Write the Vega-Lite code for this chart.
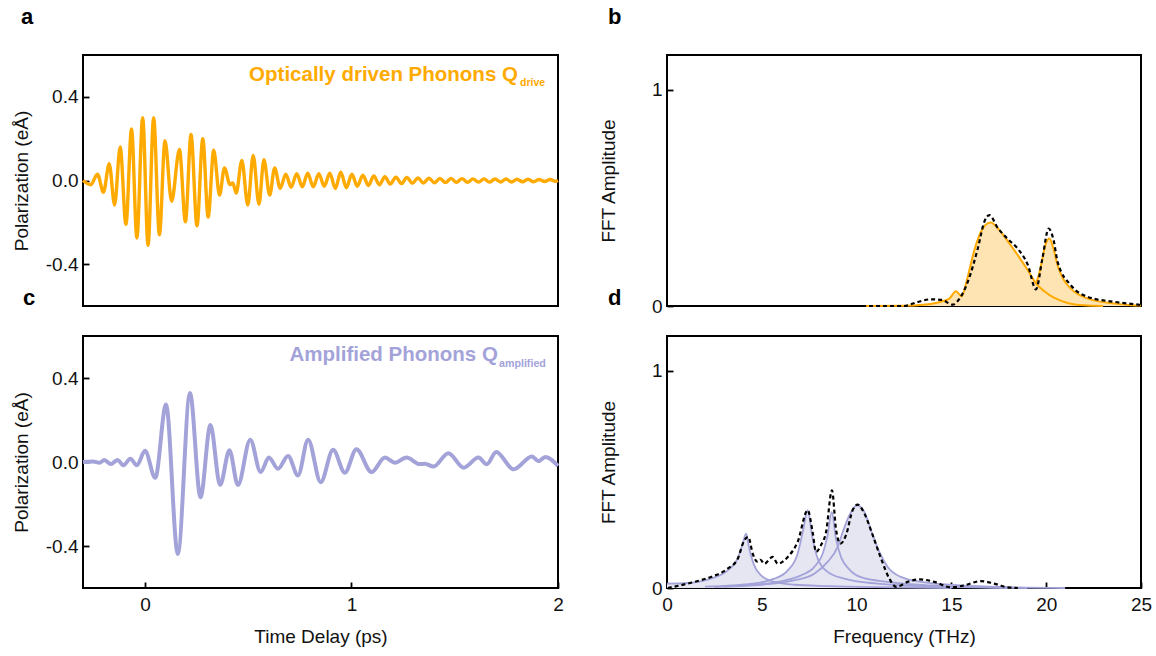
{
  "$schema": "https://vega.github.io/schema/vega-lite/v6.json",
  "padding": {"left": 11, "top": 5, "right": 5, "bottom": 5},
  "background": "white",
  "datasets": {
    "qa": [
      {"t": -0.30, "v": 0.0}, {"t": -0.262, "v": -0.02}, {"t": -0.230, "v": 0.03}, {"t": -0.201, "v": -0.056},
      {"t": -0.173, "v": 0.08}, {"t": -0.147, "v": -0.117}, {"t": -0.120, "v": 0.16}, {"t": -0.092, "v": -0.21},
      {"t": -0.065, "v": 0.247}, {"t": -0.039, "v": -0.275}, {"t": -0.011, "v": 0.30}, {"t": 0.015, "v": -0.31},
      {"t": 0.042, "v": 0.30}, {"t": 0.070, "v": -0.26}, {"t": 0.097, "v": 0.19}, {"t": 0.129, "v": -0.10},
      {"t": 0.167, "v": 0.148}, {"t": 0.196, "v": -0.198}, {"t": 0.223, "v": 0.22}, {"t": 0.252, "v": -0.217},
      {"t": 0.280, "v": 0.20}, {"t": 0.306, "v": -0.175}, {"t": 0.333, "v": 0.145}, {"t": 0.361, "v": -0.07},
      {"t": 0.385, "v": 0.06}, {"t": 0.412, "v": -0.02}, {"t": 0.425, "v": -0.012}, {"t": 0.442, "v": -0.06},
      {"t": 0.469, "v": 0.096}, {"t": 0.498, "v": -0.117}, {"t": 0.524, "v": 0.12}, {"t": 0.552, "v": -0.114},
      {"t": 0.576, "v": 0.10}, {"t": 0.604, "v": -0.07}, {"t": 0.628, "v": 0.06}, {"t": 0.655, "v": -0.037},
      {"t": 0.682, "v": 0.03}, {"t": 0.708, "v": -0.032}, {"t": 0.735, "v": 0.033}, {"t": 0.762, "v": -0.03},
      {"t": 0.788, "v": 0.035}, {"t": 0.815, "v": -0.03}, {"t": 0.842, "v": 0.032}, {"t": 0.868, "v": -0.028},
      {"t": 0.895, "v": 0.035}, {"t": 0.922, "v": -0.038}, {"t": 0.948, "v": 0.04}, {"t": 0.975, "v": -0.035},
      {"t": 1.002, "v": 0.03}, {"t": 1.028, "v": -0.028}, {"t": 1.055, "v": 0.025}, {"t": 1.082, "v": -0.024},
      {"t": 1.108, "v": 0.022}, {"t": 1.135, "v": -0.02}, {"t": 1.162, "v": 0.018}, {"t": 1.188, "v": -0.017},
      {"t": 1.215, "v": 0.016}, {"t": 1.242, "v": -0.015}, {"t": 1.268, "v": 0.014}, {"t": 1.295, "v": -0.013},
      {"t": 1.322, "v": 0.012}, {"t": 1.348, "v": -0.012}, {"t": 1.375, "v": 0.011}, {"t": 1.402, "v": -0.011},
      {"t": 1.428, "v": 0.01}, {"t": 1.455, "v": -0.01}, {"t": 1.482, "v": 0.01}, {"t": 1.508, "v": -0.009},
      {"t": 1.535, "v": 0.009}, {"t": 1.562, "v": -0.009}, {"t": 1.588, "v": 0.008}, {"t": 1.615, "v": -0.008},
      {"t": 1.642, "v": 0.008}, {"t": 1.668, "v": -0.008}, {"t": 1.695, "v": 0.007}, {"t": 1.722, "v": -0.007},
      {"t": 1.748, "v": 0.007}, {"t": 1.775, "v": -0.007}, {"t": 1.802, "v": 0.006}, {"t": 1.828, "v": -0.006},
      {"t": 1.855, "v": 0.006}, {"t": 1.882, "v": -0.006}, {"t": 1.908, "v": 0.005}, {"t": 1.935, "v": -0.005},
      {"t": 1.962, "v": 0.005}, {"t": 1.988, "v": -0.004}, {"t": 2.0, "v": 0.0}
    ],
    "qc": [
      {"t": -0.30, "v": 0.0}, {"t": -0.25, "v": 0.002}, {"t": -0.22, "v": -0.004}, {"t": -0.197, "v": 0.01},
      {"t": -0.165, "v": -0.01}, {"t": -0.133, "v": 0.01}, {"t": -0.104, "v": -0.016}, {"t": -0.071, "v": 0.016},
      {"t": -0.039, "v": -0.016}, {"t": 0.0, "v": 0.053}, {"t": 0.050, "v": -0.075}, {"t": 0.102, "v": 0.274},
      {"t": 0.159, "v": -0.438}, {"t": 0.218, "v": 0.328}, {"t": 0.269, "v": -0.168}, {"t": 0.317, "v": 0.176},
      {"t": 0.364, "v": -0.110}, {"t": 0.409, "v": 0.056}, {"t": 0.450, "v": -0.110}, {"t": 0.510, "v": 0.106},
      {"t": 0.560, "v": -0.048}, {"t": 0.600, "v": 0.021}, {"t": 0.644, "v": -0.032}, {"t": 0.693, "v": 0.029},
      {"t": 0.741, "v": -0.064}, {"t": 0.790, "v": 0.106}, {"t": 0.851, "v": -0.096}, {"t": 0.911, "v": 0.058},
      {"t": 0.968, "v": -0.051}, {"t": 1.024, "v": 0.061}, {"t": 1.097, "v": -0.048}, {"t": 1.162, "v": 0.021},
      {"t": 1.210, "v": -0.003}, {"t": 1.267, "v": 0.021}, {"t": 1.330, "v": -0.01}, {"t": 1.355, "v": -0.008},
      {"t": 1.397, "v": -0.022}, {"t": 1.469, "v": 0.042}, {"t": 1.543, "v": -0.027}, {"t": 1.615, "v": 0.021},
      {"t": 1.655, "v": -0.011}, {"t": 1.701, "v": 0.048}, {"t": 1.785, "v": -0.035}, {"t": 1.874, "v": 0.026},
      {"t": 1.906, "v": 0.004}, {"t": 1.938, "v": 0.024}, {"t": 2.0, "v": -0.019}
    ],
    "bdrive": [
      {"s": "d1", "f": 10.5, "v": 0.0}, {"s": "d1", "f": 12.5, "v": 0.001}, {"s": "d1", "f": 13.5, "v": 0.006},
      {"s": "d1", "f": 14.45, "v": 0.02}, {"s": "d1", "f": 14.9, "v": 0.035}, {"s": "d1", "f": 15.24, "v": 0.068},
      {"s": "d1", "f": 15.55, "v": 0.045}, {"s": "d1", "f": 15.77, "v": 0.104}, {"s": "d1", "f": 16.21, "v": 0.258},
      {"s": "d1", "f": 16.56, "v": 0.343}, {"s": "d1", "f": 16.8, "v": 0.375}, {"s": "d1", "f": 17.06, "v": 0.386},
      {"s": "d1", "f": 17.53, "v": 0.351}, {"s": "d1", "f": 17.97, "v": 0.30}, {"s": "d1", "f": 18.5, "v": 0.235},
      {"s": "d1", "f": 19.03, "v": 0.165}, {"s": "d1", "f": 19.46, "v": 0.105}, {"s": "d1", "f": 19.9, "v": 0.068},
      {"s": "d1", "f": 20.43, "v": 0.037}, {"s": "d1", "f": 21.13, "v": 0.014}, {"s": "d1", "f": 22.0, "v": 0.003},
      {"s": "d1", "f": 23.0, "v": 0.0},
      {"s": "d2", "f": 19.46, "v": 0.105}, {"s": "d2", "f": 19.6, "v": 0.14},
      {"s": "d2", "f": 19.73, "v": 0.188}, {"s": "d2", "f": 19.95, "v": 0.28},
      {"s": "d2", "f": 20.17, "v": 0.312}, {"s": "d2", "f": 20.4, "v": 0.26}, {"s": "d2", "f": 20.6, "v": 0.188},
      {"s": "d2", "f": 20.9, "v": 0.125}, {"s": "d2", "f": 21.3, "v": 0.08}, {"s": "d2", "f": 22.2, "v": 0.034},
      {"s": "d2", "f": 23.6, "v": 0.011}, {"s": "d2", "f": 24.5, "v": 0.004}, {"s": "d2", "f": 25.0, "v": 0.002}
    ],
    "btotal": [
      {"f": 9.18, "v": 0.0}, {"f": 12.5, "v": 0.0}, {"f": 13.2, "v": 0.018}, {"f": 13.92, "v": 0.031},
      {"f": 14.5, "v": 0.028}, {"f": 15.07, "v": 0.006}, {"f": 15.3, "v": 0.02}, {"f": 15.86, "v": 0.111},
      {"f": 16.39, "v": 0.265}, {"f": 16.74, "v": 0.39}, {"f": 17.0, "v": 0.42}, {"f": 17.45, "v": 0.36},
      {"f": 17.97, "v": 0.31}, {"f": 18.5, "v": 0.265}, {"f": 19.03, "v": 0.19}, {"f": 19.46, "v": 0.077},
      {"f": 19.8, "v": 0.22}, {"f": 20.13, "v": 0.358}, {"f": 20.4, "v": 0.3}, {"f": 20.6, "v": 0.204},
      {"f": 21.3, "v": 0.096}, {"f": 22.2, "v": 0.042}, {"f": 23.6, "v": 0.019}, {"f": 24.85, "v": 0.006},
      {"f": 25.0, "v": 0.004}
    ],
    "dlor": [
      {"s": "L1", "f": 0.0, "v": 0.02}, {"s": "L1", "f": 1.09, "v": 0.023}, {"s": "L1", "f": 2.32, "v": 0.043},
      {"s": "L1", "f": 3.2, "v": 0.081}, {"s": "L1", "f": 3.73, "v": 0.135}, {"s": "L1", "f": 3.99, "v": 0.204},
      {"s": "L1", "f": 4.17, "v": 0.25}, {"s": "L1", "f": 4.34, "v": 0.181}, {"s": "L1", "f": 4.6, "v": 0.104},
      {"s": "L1", "f": 4.96, "v": 0.058}, {"s": "L1", "f": 5.66, "v": 0.028}, {"s": "L1", "f": 6.71, "v": 0.015},
      {"s": "L1", "f": 8.47, "v": 0.009}, {"s": "L1", "f": 11.0, "v": 0.004}, {"s": "L1", "f": 15.0, "v": 0.0},
      {"s": "L2", "f": 2.0, "v": 0.006}, {"s": "L2", "f": 3.5, "v": 0.012}, {"s": "L2", "f": 4.5, "v": 0.02},
      {"s": "L2", "f": 5.1, "v": 0.028}, {"s": "L2", "f": 5.66, "v": 0.043}, {"s": "L2", "f": 6.37, "v": 0.081},
      {"s": "L2", "f": 6.89, "v": 0.158}, {"s": "L2", "f": 7.16, "v": 0.258}, {"s": "L2", "f": 7.42, "v": 0.358},
      {"s": "L2", "f": 7.68, "v": 0.227}, {"s": "L2", "f": 7.95, "v": 0.135}, {"s": "L2", "f": 8.47, "v": 0.074},
      {"s": "L2", "f": 9.35, "v": 0.043}, {"s": "L2", "f": 11.1, "v": 0.02}, {"s": "L2", "f": 13.0, "v": 0.01},
      {"s": "L2", "f": 15.0, "v": 0.005}, {"s": "L2", "f": 18.0, "v": 0.0},
      {"s": "L3", "f": 2.5, "v": 0.004}, {"s": "L3", "f": 4.08, "v": 0.012}, {"s": "L3", "f": 5.84, "v": 0.028},
      {"s": "L3", "f": 7.07, "v": 0.058}, {"s": "L3", "f": 7.77, "v": 0.097}, {"s": "L3", "f": 8.21, "v": 0.158},
      {"s": "L3", "f": 8.47, "v": 0.243}, {"s": "L3", "f": 8.69, "v": 0.35}, {"s": "L3", "f": 8.91, "v": 0.227},
      {"s": "L3", "f": 9.18, "v": 0.142}, {"s": "L3", "f": 9.62, "v": 0.085}, {"s": "L3", "f": 10.23, "v": 0.05},
      {"s": "L3", "f": 11.64, "v": 0.028}, {"s": "L3", "f": 13.75, "v": 0.012}, {"s": "L3", "f": 16.0, "v": 0.005},
      {"s": "L3", "f": 19.0, "v": 0.0},
      {"s": "L4", "f": 3.0, "v": 0.006}, {"s": "L4", "f": 4.96, "v": 0.015}, {"s": "L4", "f": 6.71, "v": 0.035},
      {"s": "L4", "f": 7.77, "v": 0.066}, {"s": "L4", "f": 8.47, "v": 0.12}, {"s": "L4", "f": 9.0, "v": 0.189},
      {"s": "L4", "f": 9.27, "v": 0.258}, {"s": "L4", "f": 9.62, "v": 0.335}, {"s": "L4", "f": 10.02, "v": 0.381},
      {"s": "L4", "f": 10.41, "v": 0.35}, {"s": "L4", "f": 10.76, "v": 0.266}, {"s": "L4", "f": 11.2, "v": 0.166},
      {"s": "L4", "f": 11.64, "v": 0.097}, {"s": "L4", "f": 12.34, "v": 0.051}, {"s": "L4", "f": 13.4, "v": 0.028},
      {"s": "L4", "f": 15.5, "v": 0.012}, {"s": "L4", "f": 18.0, "v": 0.004}, {"s": "L4", "f": 21.0, "v": 0.0}
    ],
    "dtotal": [
      {"f": 0.04, "v": 0.0}, {"f": 1.44, "v": 0.028}, {"f": 2.32, "v": 0.051}, {"f": 3.2, "v": 0.089},
      {"f": 3.73, "v": 0.135}, {"f": 4.08, "v": 0.22}, {"f": 4.29, "v": 0.235}, {"f": 4.52, "v": 0.158},
      {"f": 4.78, "v": 0.12}, {"f": 4.92, "v": 0.13}, {"f": 5.13, "v": 0.112}, {"f": 5.57, "v": 0.143},
      {"f": 5.84, "v": 0.112}, {"f": 6.37, "v": 0.143}, {"f": 6.89, "v": 0.212}, {"f": 7.42, "v": 0.358},
      {"f": 7.68, "v": 0.258}, {"f": 7.86, "v": 0.166}, {"f": 8.12, "v": 0.197}, {"f": 8.39, "v": 0.258},
      {"f": 8.7, "v": 0.45}, {"f": 8.91, "v": 0.273}, {"f": 9.14, "v": 0.204}, {"f": 9.44, "v": 0.243},
      {"f": 9.79, "v": 0.358}, {"f": 10.06, "v": 0.384}, {"f": 10.41, "v": 0.343}, {"f": 10.85, "v": 0.243},
      {"f": 11.29, "v": 0.135}, {"f": 11.73, "v": 0.043}, {"f": 12.08, "v": 0.005}, {"f": 12.69, "v": 0.028},
      {"f": 13.31, "v": 0.04}, {"f": 14.1, "v": 0.028}, {"f": 14.98, "v": 0.003}, {"f": 15.68, "v": 0.012},
      {"f": 16.56, "v": 0.032}, {"f": 17.26, "v": 0.02}, {"f": 17.97, "v": 0.003}, {"f": 18.5, "v": 0.0}
    ]
  },
  "columns": 2,
  "spacing": {"row": 30, "column": 109},
  "bounds": "flush",
  "concat": [
    {
      "width": 475, "height": 251,
      "title": {"text": "a", "dx": -62, "offset": 9, "baseline": "alphabetic"},
      "layer": [
        {
          "data": {"name": "qa"},
          "mark": {"type": "line", "color": "#FFAA00", "strokeWidth": 3.4, "interpolate": "monotone"},
          "encoding": {
            "x": {"field": "t", "type": "quantitative", "scale": {"domain": [-0.3, 2], "nice": false, "zero": false}, "axis": null},
            "y": {"field": "v", "type": "quantitative", "scale": {"domain": [-0.6, 0.6], "nice": false},
                  "axis": {"title": "Polarization (eÅ)", "values": [-0.4, 0, 0.4], "titlePadding": 14,
                           "labelExpr": "datum.value < 0 ? '-' + format(-datum.value, '.1f') : format(datum.value, '.1f')"}}
          }
        },
        {
          "data": {"values": [{"t": 1.806, "v": 0.504, "label": "Optically driven Phonons Q"}]},
          "mark": {"type": "text", "align": "right", "baseline": "middle", "fontWeight": "bold", "fontSize": 20.5, "color": "#FFAA00"},
          "encoding": {"x": {"field": "t", "type": "quantitative"}, "y": {"field": "v", "type": "quantitative"}, "text": {"field": "label"}}
        },
        {
          "data": {"values": [{"t": 1.816, "v": 0.464, "label": "drive"}]},
          "mark": {"type": "text", "align": "left", "baseline": "middle", "fontWeight": "bold", "fontSize": 10.5, "color": "#FFAA00"},
          "encoding": {"x": {"field": "t", "type": "quantitative"}, "y": {"field": "v", "type": "quantitative"}, "text": {"field": "label"}}
        }
      ]
    },
    {
      "width": 474, "height": 251,
      "title": {"text": "b", "dx": -59, "offset": 9, "baseline": "alphabetic"},
      "layer": [
        {
          "data": {"name": "bdrive"},
          "mark": {"type": "area", "color": "#FFE4B3", "interpolate": "monotone"},
          "encoding": {
            "x": {"field": "f", "type": "quantitative", "scale": {"domain": [0, 25], "nice": false}, "axis": null},
            "y": {"field": "v", "type": "quantitative", "stack": null, "scale": {"domain": [0, 1.16], "nice": false},
                  "axis": {"title": "FFT Amplitude", "values": [0, 1], "format": "d", "titlePadding": 33}},
            "detail": {"field": "s"}
          }
        },
        {
          "data": {"name": "bdrive"},
          "mark": {"type": "line", "color": "#FFAA00", "strokeWidth": 2, "interpolate": "monotone"},
          "encoding": {
            "x": {"field": "f", "type": "quantitative"},
            "y": {"field": "v", "type": "quantitative", "stack": null},
            "detail": {"field": "s"}
          }
        },
        {
          "data": {"name": "btotal"},
          "mark": {"type": "line", "color": "#000000", "strokeWidth": 2.2, "strokeDash": [4, 3], "interpolate": "monotone"},
          "encoding": {
            "x": {"field": "f", "type": "quantitative"},
            "y": {"field": "v", "type": "quantitative"}
          }
        }
      ]
    },
    {
      "width": 475, "height": 252,
      "title": {"text": "c", "dx": -60, "offset": 9, "baseline": "alphabetic"},
      "layer": [
        {
          "data": {"name": "qc"},
          "mark": {"type": "line", "color": "#A3A3D9", "strokeWidth": 4, "interpolate": "monotone"},
          "encoding": {
            "x": {"field": "t", "type": "quantitative", "scale": {"domain": [-0.3, 2], "nice": false, "zero": false},
                  "axis": {"title": "Time Delay (ps)", "values": [0, 1, 2], "format": "d"}},
            "y": {"field": "v", "type": "quantitative", "scale": {"domain": [-0.6, 0.6], "nice": false},
                  "axis": {"title": "Polarization (eÅ)", "values": [-0.4, 0, 0.4], "titlePadding": 14,
                           "labelExpr": "datum.value < 0 ? '-' + format(-datum.value, '.1f') : format(datum.value, '.1f')"}}
          }
        },
        {
          "data": {"values": [{"t": 1.709, "v": 0.51, "label": "Amplified Phonons Q"}]},
          "mark": {"type": "text", "align": "right", "baseline": "middle", "fontWeight": "bold", "fontSize": 20.5, "color": "#A3A3D9"},
          "encoding": {"x": {"field": "t", "type": "quantitative"}, "y": {"field": "v", "type": "quantitative"}, "text": {"field": "label"}}
        },
        {
          "data": {"values": [{"t": 1.714, "v": 0.469, "label": "amplified"}]},
          "mark": {"type": "text", "align": "left", "baseline": "middle", "fontWeight": "bold", "fontSize": 10.7, "color": "#A3A3D9"},
          "encoding": {"x": {"field": "t", "type": "quantitative"}, "y": {"field": "v", "type": "quantitative"}, "text": {"field": "label"}}
        }
      ]
    },
    {
      "width": 474, "height": 252,
      "title": {"text": "d", "dx": -59, "offset": 9, "baseline": "alphabetic"},
      "layer": [
        {
          "data": {"name": "dlor"},
          "mark": {"type": "area", "color": "#E6E6F3", "interpolate": "monotone"},
          "encoding": {
            "x": {"field": "f", "type": "quantitative", "scale": {"domain": [0, 25], "nice": false},
                  "axis": {"title": "Frequency (THz)", "values": [0, 5, 10, 15, 20, 25], "format": "d"}},
            "y": {"field": "v", "type": "quantitative", "stack": null, "scale": {"domain": [0, 1.16], "nice": false},
                  "axis": {"title": "FFT Amplitude", "values": [0, 1], "format": "d", "titlePadding": 33}},
            "detail": {"field": "s"}
          }
        },
        {
          "data": {"name": "dlor"},
          "mark": {"type": "line", "color": "#A3A3D9", "strokeWidth": 1.8, "interpolate": "monotone"},
          "encoding": {
            "x": {"field": "f", "type": "quantitative"},
            "y": {"field": "v", "type": "quantitative", "stack": null},
            "detail": {"field": "s"}
          }
        },
        {
          "data": {"name": "dtotal"},
          "mark": {"type": "line", "color": "#000000", "strokeWidth": 2.2, "strokeDash": [4, 3], "interpolate": "monotone"},
          "encoding": {
            "x": {"field": "f", "type": "quantitative"},
            "y": {"field": "v", "type": "quantitative"}
          }
        }
      ]
    }
  ],
  "config": {
    "font": "Liberation Sans",
    "view": {"stroke": "#000000", "strokeWidth": 2},
    "axis": {"domain": false, "grid": false, "ticks": true, "tickSize": -6, "tickColor": "#000000", "tickWidth": 1.8,
             "labelFontSize": 19, "labelColor": "#111111", "titleFontSize": 19, "titleFontWeight": "normal",
             "titleColor": "#111111", "labelFlush": false, "labelOverlap": false},
    "axisY": {"labelPadding": 11},
    "axisX": {"labelPadding": 13, "titlePadding": 13},
    "title": {"fontSize": 22, "fontWeight": "bold", "anchor": "start", "frame": "group", "color": "#000000"}
  }
}
